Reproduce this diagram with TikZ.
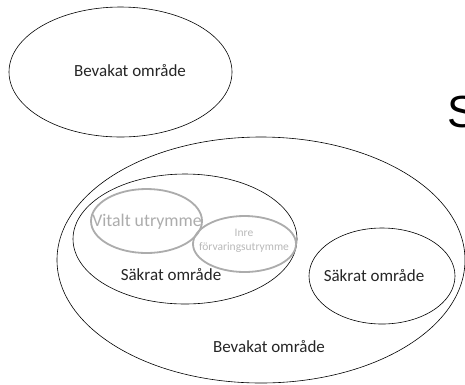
\documentclass[tikz,border=0pt]{standalone}
\usepackage{fontspec}
\setmainfont{Carlito}
\newfontfamily\bigsans{Liberation Sans}
\usetikzlibrary{positioning}

\begin{document}
\begin{tikzpicture}[x=1pt, y=-1pt, line cap=round,
        zone/.style={draw=black, line width=0.6pt},
        inner/.style={draw=gray!65, line width=1.8pt},
        lbl/.style={font=\fontsize{17}{19}\selectfont, text=black!85, inner sep=0pt},
        graylbl/.style={font=\fontsize{17.8}{20}\selectfont, text=gray!65, inner sep=0pt},
        smalllbl/.style={font=\fontsize{11.5}{14}\selectfont, text=gray!55, inner sep=0pt, align=center}]
        \path[use as bounding box, fill=white] (0,0) rectangle (465,384);
        % omraden
        \draw [zone] (120.5,72) ellipse (111.5 and 65);
        \draw [zone] (261,260) ellipse (204 and 123);
        \draw [zone] (185,239) ellipse (112 and 65);
        \draw [zone] (382,276) ellipse (73 and 48);
        \draw [inner] (146.5,221) ellipse (55.5 and 32);
        \draw [inner] (244.5,244) ellipse (51.5 and 28);
        % texter
        \node[lbl] (bevakat1) at (130,71) {Bevakat område};
        \node[lbl] (bevakat2) at (269,347) {Bevakat område};
        \node[lbl] (sakrat1) at (171,275) {Säkrat område};
        \node[lbl] (sakrat2) at (374,276) {Säkrat område};
        \node[graylbl] (vitalt) at (147,222) {Vitalt utrymme};
        \node[smalllbl] (forvaring) at (244,241) {Inre\\förvaringsutrymme};
        \node[anchor=base west, inner sep=0pt, font=\bigsans\fontsize{45}{50}\selectfont] (rubrik) at (447,127) {S};
\end{tikzpicture}
\end{document}
